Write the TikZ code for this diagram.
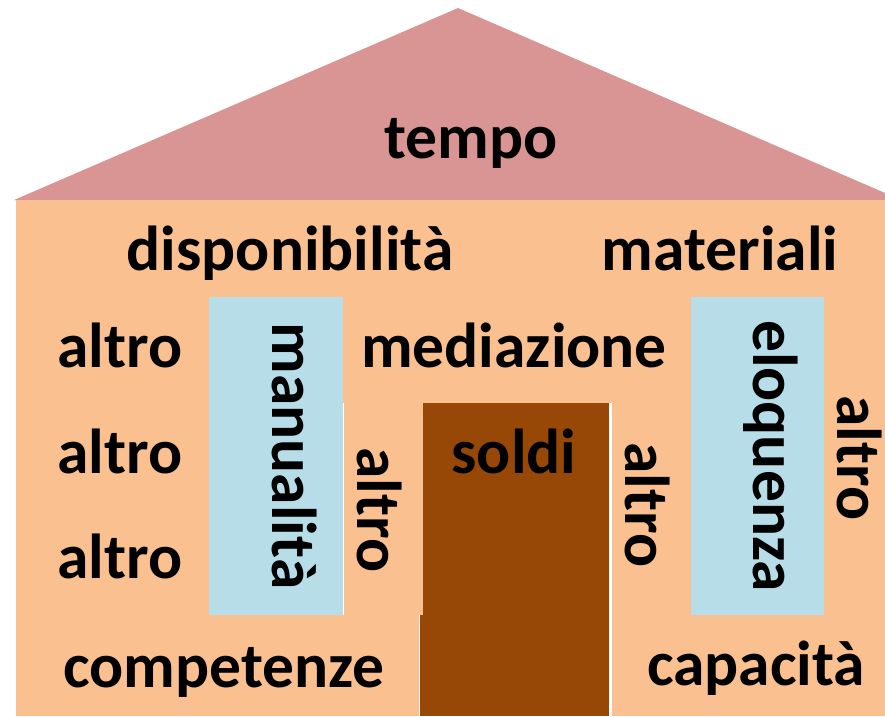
\documentclass[tikz,border=0pt]{standalone}
\usepackage{fontspec}
\setmainfont{Carlito}
\definecolor{roofc}{HTML}{D99594}
\definecolor{wallc}{HTML}{FAC090}
\definecolor{colc}{HTML}{B7DDE8}
\definecolor{doorc}{HTML}{974806}
\tikzset{
  lbl/.style={anchor=base, inner sep=0pt, font=\fontsize{63.5pt}{72pt}\selectfont\bfseries, text=black},
  vlbl/.style={lbl, rotate=-90},
  gap/.style={draw=white, line cap=butt}
}
\begin{document}
\begin{tikzpicture}[x=1pt, y=-1pt]
\useasboundingbox (0,0) rectangle (885,716);
% roof
\fill[roofc] (14,200) -- (458,8) -- (885,193) -- (885,200) -- cycle;
% wall
\fill[wallc] (16,200) rectangle (885,716);
% columns
\fill[colc] (209,297) rectangle (343,615);
\fill[colc] (691,297) rectangle (824,615);
% door
\fill[doorc] (423,403) rectangle (608.5,615);
\fill[doorc] (420,615) rectangle (608.5,716);
% tile gaps
\draw[gap, line width=1.5pt] (343.5,403) -- (343.5,615);
\draw[gap, line width=3pt] (610,403) -- (610,716);
\draw[gap, line width=1pt] (419.5,615) -- (419.5,716);
% labels
\node[lbl] (tempo) at (471,158) {tempo};
\node[lbl] (disp) at (290,270) {disponibilità};
\node[lbl] (mat) at (720,270) {materiali};
\node[lbl] (alt1) at (120,367) {altro};
\node[lbl] (alt2) at (120,473) {altro};
\node[lbl] (alt3) at (120,578) {altro};
\node[lbl] (med) at (514,367) {mediazione};
\node[lbl] (soldi) at (514,473) {soldi};
\node[lbl] (comp) at (224,687) {competenze};
\node[lbl] (cap) at (756,685) {capacità};
\node[vlbl] (man) at (272,456) {manualità};
\node[vlbl] (elo) at (753,456) {eloquenza};
\node[vlbl] (alt4) at (357,510) {altro};
\node[vlbl] (alt5) at (625,505) {altro};
\node[vlbl] (alt6) at (837,458) {altro};
\end{tikzpicture}
\end{document}
